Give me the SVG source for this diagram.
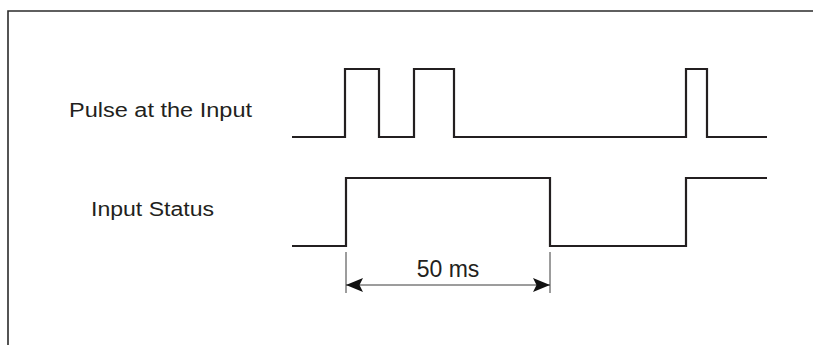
<svg xmlns="http://www.w3.org/2000/svg" width="814" height="345" viewBox="0 0 814 345">
  <style>
    .frame { fill: none; stroke: #2b2b2b; stroke-width: 1.6; }
    .wave { fill: none; stroke: #231f20; stroke-width: 2.2; stroke-linejoin: miter; }
    .dim { fill: none; stroke: #3a3a3a; stroke-width: 1; }
    .label { font-family: "Liberation Sans", Arial, sans-serif; font-size: 20px; fill: #231f20; }
    .dimtext { font-family: "Liberation Sans", Arial, sans-serif; font-size: 23px; fill: #231f20; }
  </style>
  <defs>
    <marker id="arrow" viewBox="0 0 17 14" refX="17" refY="7" markerWidth="17" markerHeight="14" markerUnits="userSpaceOnUse" orient="auto-start-reverse">
      <path d="M0,0 L17,7 L0,14 L3.5,7 Z" fill="#111"/>
    </marker>
  </defs>

  <!-- outer frame: top and left edges -->
  <path class="frame" d="M8,345 V11 H813"/>

  <g id="pulse-input">
    <text class="label" x="69" y="117" textLength="183" lengthAdjust="spacingAndGlyphs">Pulse at the Input</text>
    <path class="wave" d="M292,137 H345 V69 H379 V137 H414 V69 H454 V137 H686 V69 H707 V137 H767"/>
  </g>

  <g id="input-status">
    <text class="label" x="91" y="216" textLength="123" lengthAdjust="spacingAndGlyphs">Input Status</text>
    <path class="wave" d="M292,246 H346 V178 H550 V246 H686 V178 H767"/>
  </g>

  <g id="connectors">
    <!-- extension lines -->
    <path class="dim" d="M346,252 V293 M550,252 V293"/>
    <!-- dimension line with arrowheads -->
    <path class="dim" d="M346,285 H550" marker-start="url(#arrow)" marker-end="url(#arrow)"/>
  </g>

  <g id="duration">
    <text class="dimtext" x="448" y="277" text-anchor="middle">50 ms</text>
  </g>
</svg>
